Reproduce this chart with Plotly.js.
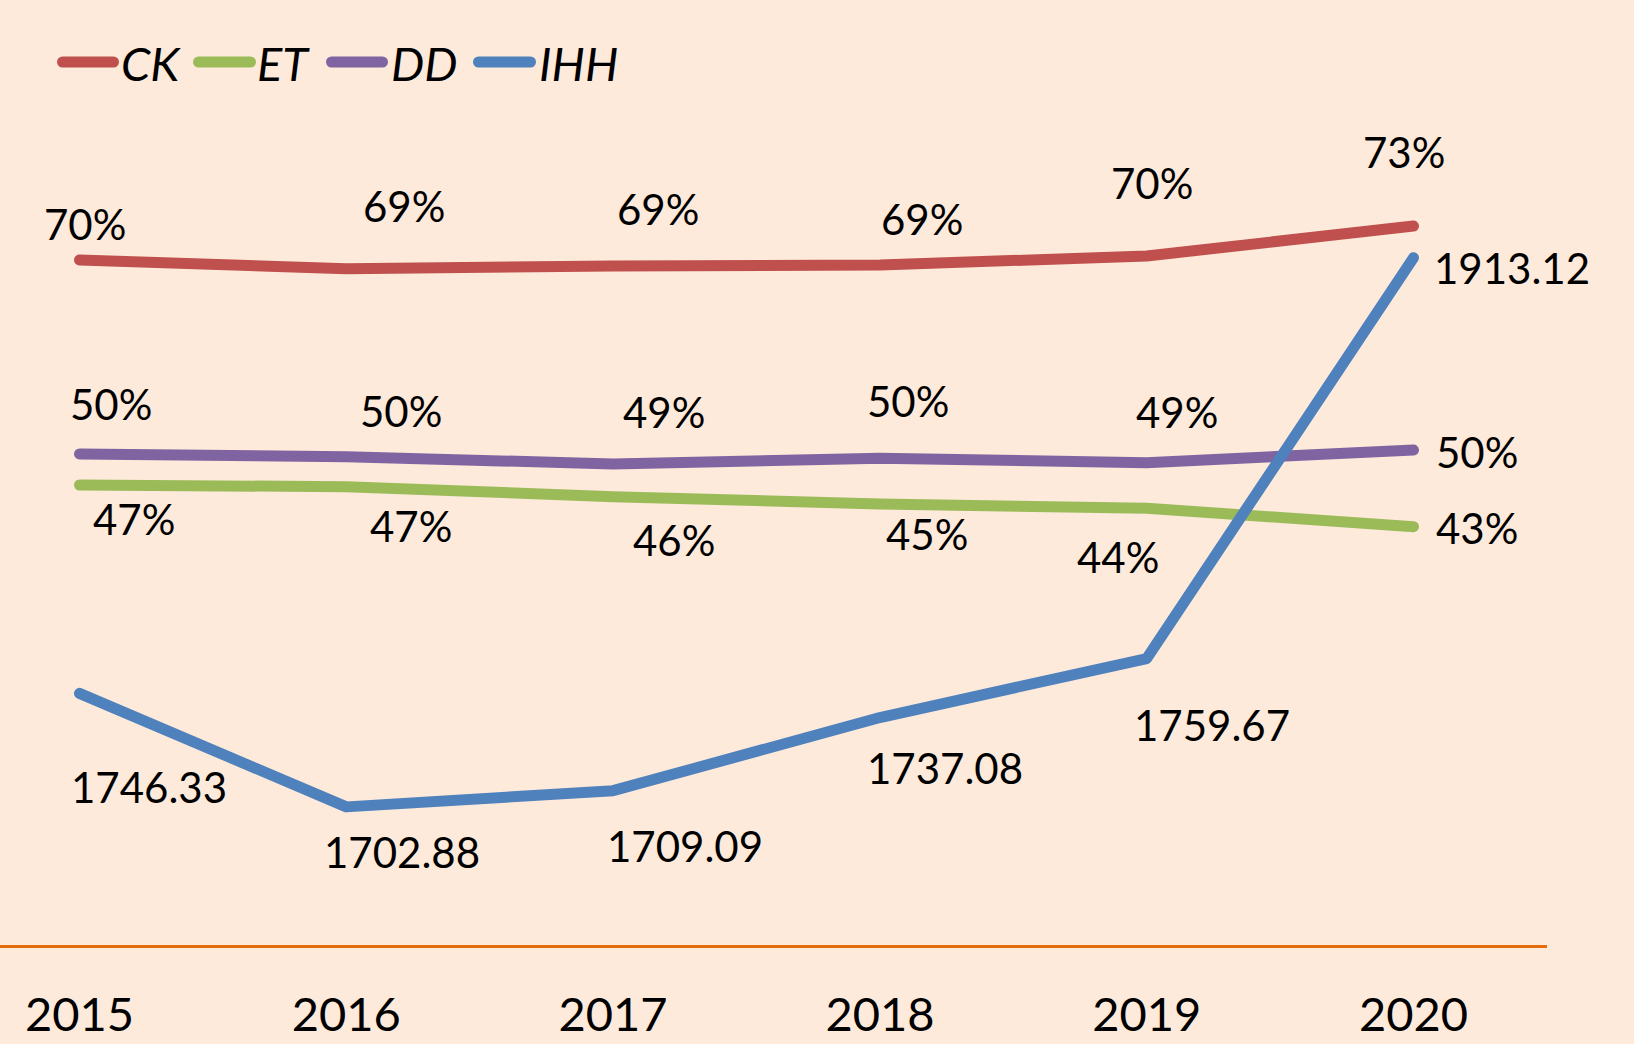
<!DOCTYPE html>
<html>
<head>
<meta charset="utf-8">
<script src="https://cdn.plot.ly/plotly-3.0.1.min.js"></script>
<style>
  html, body { margin: 0; padding: 0; background: #FDEADA; }
  #chart { width: 1634px; height: 1044px; }
  .scatterlayer .js-line { stroke-linecap: round; stroke-linejoin: round; }
  .shapelayer path { stroke-linecap: round; }
</style>
</head>
<body>
<div id="chart"></div>
<script>
// ---- data ----
const years = ["2015", "2016", "2017", "2018", "2019", "2020"];
const seriesNames = ["CK", "ET", "DD", "IHH"];
const ck  = [0.6976, 0.6887, 0.6914, 0.6925, 0.7016, 0.7322];
const et  = [0.4684, 0.4667, 0.4565, 0.4491, 0.4447, 0.4260];
const dd  = [0.5000, 0.4973, 0.4898, 0.4956, 0.4911, 0.5041];
const ihh = [1746.33, 1702.88, 1709.09, 1737.08, 1759.67, 1913.12];

// ---- styling ----
const colors = { CK: "#C0504D", ET: "#9BBB59", DD: "#8064A2", IHH: "#4F81BD" };
const FONT = "Lato, 'Open Sans', 'Noto Sans', sans-serif";
const LINE_W = 11;

// label offsets in pixels (dx right, dy down) relative to each point
const labelOffsets = {
  CK:  [[5.5,-36],[57.7,-62.7],[44.9,-57],[42.1,-46],[5.3,-73.5],[-9.5,-74]],
  DD:  [[31.5,-50],[54.7,-45.7],[50.9,-52],[28.1,-57.3],[30.3,-50.7],[63.5,2]],
  ET:  [[54.5,34],[64.7,39.3],[60.9,43.3],[47.1,30],[-28.7,48.7],[63.5,1.3]],
  IHH: [[69,93.6],[55.7,45.1],[71.9,55.3],[65.1,50.5],[65.3,66.5],[98,10.3]]
};

// plot geometry
const W = 1634, H = 1044;
const M = { l: 0, r: 87, t: 100, b: 99 };
const plotW = W - M.l - M.r;   // 1547
const plotH = H - M.t - M.b;   // 845
const axisY = M.t + plotH;     // 945

const seriesData = { CK: ck, ET: et, DD: dd, IHH: ihh };
const seriesAxis = { CK: "y", ET: "y", DD: "y", IHH: "y2" };

const traces = seriesNames.map(name => ({
  type: "scatter",
  mode: "lines",
  name: name,
  x: years,
  y: seriesData[name],
  yaxis: seriesAxis[name],
  line: { color: colors[name], width: LINE_W },
  hoverinfo: "skip",
  showlegend: false,
  cliponaxis: false
}));

const fmt = (name, v) => name === "IHH" ? v.toFixed(2) : Math.round(v * 100) + "%";

const annotations = [];
seriesNames.forEach(name => {
  seriesData[name].forEach((v, i) => {
    const off = labelOffsets[name][i];
    annotations.push({
      x: i, y: v, xref: "x", yref: seriesAxis[name],
      text: fmt(name, v), showarrow: false,
      xanchor: "center", yanchor: "middle",
      xshift: off[0], yshift: -off[1],
      font: { family: FONT, size: 42, color: "#000000" }
    });
  });
});

// custom legend (line samples + italic names)
const legendItems = [
  { name: "CK",  x0: 62.5,  x1: 113.5, tx: 119 },
  { name: "ET",  x0: 198.5, x1: 250.5, tx: 255 },
  { name: "DD",  x0: 331.5, x1: 382.5, tx: 389 },
  { name: "IHH", x0: 478.5, x1: 530.5, tx: 537 }
];
const legendY = 62;
const px2paperX = px => (px - M.l) / plotW;
const px2paperY = py => (axisY - py) / plotH;
const shapes = legendItems.map(it => ({
  type: "line", xref: "paper", yref: "paper",
  x0: px2paperX(it.x0), x1: px2paperX(it.x1),
  y0: px2paperY(legendY), y1: px2paperY(legendY),
  line: { color: colors[it.name], width: LINE_W }
}));
legendItems.forEach(it => {
  annotations.push({
    x: px2paperX(it.tx), y: px2paperY(legendY + 1), xref: "paper", yref: "paper",
    text: "<i>" + it.name + "</i>", showarrow: false,
    xanchor: "left", yanchor: "middle",
    font: { family: FONT, size: 47, color: "#000000" }
  });
});

// axis ranges from pixel geometry
const pxPerX = 266.8, firstPx = 79.5;
const xRange = [-(firstPx) / pxPerX, (plotW - firstPx) / pxPerX];
const pctPerPx = 1 / 982;      // 0..1 scale
const ihhPxPerUnit = 2.612;

const hiddenY = {
  showgrid: false, zeroline: false, showline: false,
  showticklabels: false, ticks: "", fixedrange: true
};

const layout = {
  width: W, height: H,
  margin: M,
  paper_bgcolor: "#FDEADA",
  plot_bgcolor: "#FDEADA",
  showlegend: false,
  xaxis: {
    type: "category",
    range: xRange,
    showgrid: false, zeroline: false,
    showline: true, linecolor: "#E46C0A", linewidth: 3,
    ticks: "",
    tickfont: { family: FONT, size: 47, color: "#000000" },
    ticklabelstandoff: 27,
    fixedrange: true
  },
  yaxis: Object.assign({ range: [0, plotH * pctPerPx] }, hiddenY),
  yaxis2: Object.assign({
    range: [1650, 1650 + plotH / ihhPxPerUnit],
    overlaying: "y", side: "right"
  }, hiddenY),
  annotations: annotations,
  shapes: shapes
};

Plotly.newPlot("chart", traces, layout, { staticPlot: true, displayModeBar: false });
</script>
</body>
</html>
